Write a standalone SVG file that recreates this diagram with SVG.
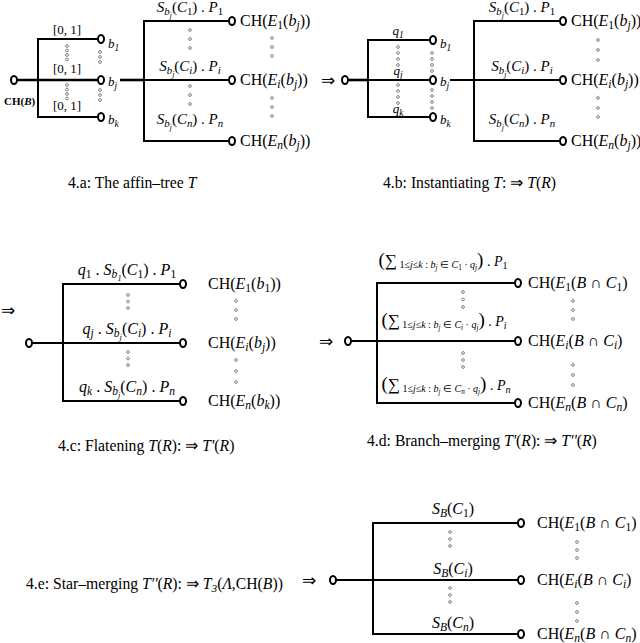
<svg xmlns="http://www.w3.org/2000/svg" width="640" height="643" viewBox="0 0 640 643">
<style>
text{font-family:"Liberation Serif","Times New Roman",serif;fill:#000}
.l{font-size:15px}
.c{font-size:16px}
.m{font-size:13px}
.cap{font-size:15.7px}
.big{font-size:16px}
.arr{font-size:17px;font-family:"DejaVu Sans",sans-serif}
.i{font-style:italic}
.s{font-size:72%;baseline-shift:-0.3em}
.ln{stroke:#000;stroke-width:2;fill:none}
.th{stroke:#000;stroke-width:2.6;fill:none}
.n{fill:#fff;stroke:#000;stroke-width:2}
.d{fill:none;stroke:#666;stroke-width:0.8}
</style>
<defs>
<ellipse id="o" cx="0" cy="0" rx="3" ry="4" class="n"/>
<circle id="dt" cx="0" cy="0" r="1.4" class="d"/>
</defs>

<!-- ===== 4.a ===== -->
<g id="fig4a">
<g id="a-edges">
<line class="th" x1="14" y1="80" x2="100" y2="80"/>
<polyline class="ln" points="100,39 38,39 38,117 100,117"/>
<line class="th" x1="120" y1="80" x2="144" y2="80"/>
<polyline class="ln" points="231,21 144,21 144,141 231,141"/>
<line class="ln" x1="144" y1="80" x2="231" y2="80"/>
</g>
<g id="a-root"><use href="#o" x="14" y="80"/><text x="4" y="105" font-size="11" font-weight="bold">CH(<tspan class="i">B</tspan>)</text></g>
<g id="a-b1"><use href="#o" x="101" y="39"/><text class="m i" x="108" y="48">b<tspan class="s">1</tspan></text></g>
<g id="a-bj"><use href="#o" x="101" y="80"/><text class="m i" x="108" y="86">b<tspan class="s">j</tspan></text></g>
<g id="a-bk"><use href="#o" x="101" y="117"/><text class="m i" x="108" y="124">b<tspan class="s">k</tspan></text></g>
<g id="a-e1"><use href="#o" x="232" y="21"/><text class="c" x="240" y="26">CH(<tspan class="i">E</tspan><tspan class="s">1</tspan>(<tspan class="i">b</tspan><tspan class="s i">j</tspan>))</text></g>
<g id="a-ei"><use href="#o" x="232" y="80"/><text class="c" x="240" y="85">CH(<tspan class="i">E</tspan><tspan class="s i">i</tspan>(<tspan class="i">b</tspan><tspan class="s i">j</tspan>))</text></g>
<g id="a-en"><use href="#o" x="232" y="141"/><text class="c" x="240" y="146">CH(<tspan class="i">E</tspan><tspan class="s i">n</tspan>(<tspan class="i">b</tspan><tspan class="s i">j</tspan>))</text></g>
<g id="a-labels">
<text class="m" x="67" y="34" text-anchor="middle">[0, 1]</text>
<text class="m" x="67" y="73" text-anchor="middle">[0, 1]</text>
<text class="m" x="67" y="110" text-anchor="middle">[0, 1]</text>
<text class="l" x="190" y="12" text-anchor="middle"><tspan class="i">S</tspan><tspan class="s i">b<tspan class="s">j</tspan></tspan>(<tspan class="i">C</tspan><tspan class="s">1</tspan>) . <tspan class="i">P</tspan><tspan class="s">1</tspan></text>
<text class="l" x="190" y="71" text-anchor="middle"><tspan class="i">S</tspan><tspan class="s i">b<tspan class="s">j</tspan></tspan>(<tspan class="i">C</tspan><tspan class="s i">i</tspan>) . <tspan class="i">P</tspan><tspan class="s i">i</tspan></text>
<text class="l" x="190" y="124" text-anchor="middle"><tspan class="i">S</tspan><tspan class="s i">b<tspan class="s">j</tspan></tspan>(<tspan class="i">C</tspan><tspan class="s i">n</tspan>) . <tspan class="i">P</tspan><tspan class="s i">n</tspan></text>
</g>
<g id="a-dots">
<use href="#dt" x="67" y="46"/><use href="#dt" x="67" y="50.5"/><use href="#dt" x="67" y="55"/><use href="#dt" x="67" y="59.5"/>
<use href="#dt" x="67" y="85"/><use href="#dt" x="67" y="89.5"/><use href="#dt" x="67" y="94"/><use href="#dt" x="67" y="98.5"/>
<use href="#dt" x="100" y="52"/><use href="#dt" x="100" y="57"/><use href="#dt" x="100" y="62"/>
<use href="#dt" x="100" y="90"/><use href="#dt" x="100" y="95"/><use href="#dt" x="100" y="100"/>
<use href="#dt" x="190" y="30"/><use href="#dt" x="190" y="39"/><use href="#dt" x="190" y="48"/>
<use href="#dt" x="190" y="86"/><use href="#dt" x="190" y="95"/><use href="#dt" x="190" y="104"/>
<use href="#dt" x="272" y="38"/><use href="#dt" x="272" y="47"/><use href="#dt" x="272" y="56"/>
<use href="#dt" x="272" y="98"/><use href="#dt" x="272" y="107"/><use href="#dt" x="272" y="116"/>
</g>
<text class="cap" x="68" y="188">4.a: The affin–tree <tspan class="i">T</tspan></text>
</g>

<!-- ===== 4.b ===== -->
<g id="fig4b">
<text class="arr" x="321" y="86">⇒</text>
<g id="b-edges">
<line class="th" x1="345" y1="80" x2="368" y2="80"/>
<line class="ln" x1="368" y1="80" x2="432" y2="80"/>
<polyline class="ln" points="432,40 368,40 368,117 432,117"/>
<line class="ln" x1="450" y1="80" x2="562" y2="80"/>
<polyline class="ln" points="562,21 474,21 474,141 562,141"/>
</g>
<g id="b-root"><use href="#o" x="345" y="80"/></g>
<g id="b-b1"><use href="#o" x="433" y="40"/><text class="m i" x="440" y="48">b<tspan class="s">1</tspan></text></g>
<g id="b-bj"><use href="#o" x="433" y="80"/><text class="m i" x="440" y="86">b<tspan class="s">j</tspan></text></g>
<g id="b-bk"><use href="#o" x="433" y="117"/><text class="m i" x="440" y="124">b<tspan class="s">k</tspan></text></g>
<g id="b-e1"><use href="#o" x="563" y="21"/><text class="c" x="571" y="26">CH(<tspan class="i">E</tspan><tspan class="s">1</tspan>(<tspan class="i">b</tspan><tspan class="s i">j</tspan>))</text></g>
<g id="b-ei"><use href="#o" x="563" y="80"/><text class="c" x="571" y="85">CH(<tspan class="i">E</tspan><tspan class="s i">i</tspan>(<tspan class="i">b</tspan><tspan class="s i">j</tspan>))</text></g>
<g id="b-en"><use href="#o" x="563" y="141"/><text class="c" x="571" y="146">CH(<tspan class="i">E</tspan><tspan class="s i">n</tspan>(<tspan class="i">b</tspan><tspan class="s i">j</tspan>))</text></g>
<g id="b-labels">
<text class="m i" x="398" y="35" text-anchor="middle">q<tspan class="s">1</tspan></text>
<text class="m i" x="398" y="75" text-anchor="middle">q<tspan class="s">j</tspan></text>
<text class="m i" x="398" y="113" text-anchor="middle">q<tspan class="s">k</tspan></text>
<text class="l" x="522" y="12" text-anchor="middle"><tspan class="i">S</tspan><tspan class="s i">b<tspan class="s">j</tspan></tspan>(<tspan class="i">C</tspan><tspan class="s">1</tspan>) . <tspan class="i">P</tspan><tspan class="s">1</tspan></text>
<text class="l" x="522" y="71" text-anchor="middle"><tspan class="i">S</tspan><tspan class="s i">b<tspan class="s">j</tspan></tspan>(<tspan class="i">C</tspan><tspan class="s i">i</tspan>) . <tspan class="i">P</tspan><tspan class="s i">i</tspan></text>
<text class="l" x="522" y="124" text-anchor="middle"><tspan class="i">S</tspan><tspan class="s i">b<tspan class="s">j</tspan></tspan>(<tspan class="i">C</tspan><tspan class="s i">n</tspan>) . <tspan class="i">P</tspan><tspan class="s i">n</tspan></text>
</g>
<g id="b-dots">
<use href="#dt" x="398" y="47"/><use href="#dt" x="398" y="53"/><use href="#dt" x="398" y="59"/><use href="#dt" x="398" y="65"/>
<use href="#dt" x="398" y="85"/><use href="#dt" x="398" y="91"/><use href="#dt" x="398" y="97"/><use href="#dt" x="398" y="103"/>
<use href="#dt" x="432" y="53"/><use href="#dt" x="432" y="59"/><use href="#dt" x="432" y="65"/><use href="#dt" x="432" y="71"/>
<use href="#dt" x="432" y="90"/><use href="#dt" x="432" y="96"/><use href="#dt" x="432" y="102"/><use href="#dt" x="432" y="108"/>
<use href="#dt" x="598" y="40"/><use href="#dt" x="598" y="50"/><use href="#dt" x="598" y="60"/>
<use href="#dt" x="598" y="98"/><use href="#dt" x="598" y="108"/><use href="#dt" x="598" y="117"/>
</g>
<text class="cap" x="383" y="188">4.b: Instantiating <tspan class="i">T</tspan>: ⇒ <tspan class="i">T</tspan>(<tspan class="i">R</tspan>)</text>
</g>

<!-- ===== 4.c ===== -->
<g id="fig4c">
<text class="arr" x="1" y="316">⇒</text>
<g id="c-edges">
<line class="ln" x1="29" y1="343" x2="182" y2="343"/>
<polyline class="ln" points="182,284 63,284 63,401 182,401"/>
</g>
<g id="c-root"><use href="#o" x="29" y="343"/></g>
<g id="c-e1"><use href="#o" x="183" y="284"/><text class="c" x="208" y="289">CH(<tspan class="i">E</tspan><tspan class="s">1</tspan>(<tspan class="i">b</tspan><tspan class="s">1</tspan>))</text></g>
<g id="c-ei"><use href="#o" x="183" y="343"/><text class="c" x="208" y="348">CH(<tspan class="i">E</tspan><tspan class="s i">i</tspan>(<tspan class="i">b</tspan><tspan class="s i">j</tspan>))</text></g>
<g id="c-en"><use href="#o" x="183" y="401"/><text class="c" x="208" y="406">CH(<tspan class="i">E</tspan><tspan class="s i">n</tspan>(<tspan class="i">b</tspan><tspan class="s i">k</tspan>))</text></g>
<g id="c-labels">
<text class="c" x="127" y="275" text-anchor="middle"><tspan class="i">q</tspan><tspan class="s">1</tspan> . <tspan class="i">S</tspan><tspan class="s i">b<tspan class="s">1</tspan></tspan>(<tspan class="i">C</tspan><tspan class="s">1</tspan>) . <tspan class="i">P</tspan><tspan class="s">1</tspan></text>
<text class="c" x="127" y="334" text-anchor="middle"><tspan class="i">q</tspan><tspan class="s i">j</tspan> . <tspan class="i">S</tspan><tspan class="s i">b<tspan class="s">j</tspan></tspan>(<tspan class="i">C</tspan><tspan class="s i">i</tspan>) . <tspan class="i">P</tspan><tspan class="s i">i</tspan></text>
<text class="c" x="127" y="392" text-anchor="middle"><tspan class="i">q</tspan><tspan class="s i">k</tspan> . <tspan class="i">S</tspan><tspan class="s i">b<tspan class="s">j</tspan></tspan>(<tspan class="i">C</tspan><tspan class="s i">n</tspan>) . <tspan class="i">P</tspan><tspan class="s i">n</tspan></text>
</g>
<g id="c-dots">
<use href="#dt" x="128" y="295"/><use href="#dt" x="128" y="301.5"/><use href="#dt" x="128" y="308"/>
<use href="#dt" x="128" y="352"/><use href="#dt" x="128" y="358.5"/><use href="#dt" x="128" y="365"/>
<use href="#dt" x="236" y="301"/><use href="#dt" x="236" y="310"/><use href="#dt" x="236" y="319"/>
<use href="#dt" x="236" y="360"/><use href="#dt" x="236" y="371"/><use href="#dt" x="236" y="382"/>
</g>
<text class="cap" x="58" y="451">4.c: Flatening <tspan class="i">T</tspan>(<tspan class="i">R</tspan>): ⇒ <tspan class="i">T'</tspan>(<tspan class="i">R</tspan>)</text>
</g>

<!-- ===== 4.d ===== -->
<g id="fig4d">
<text class="arr" x="319" y="347">⇒</text>
<g id="d-edges">
<line class="ln" x1="348" y1="341" x2="517" y2="341"/>
<polyline class="ln" points="517,283 377,283 377,403 517,403"/>
</g>
<g id="d-root"><use href="#o" x="348" y="341"/></g>
<g id="d-e1"><use href="#o" x="518" y="283"/><text class="c" x="528" y="288">CH(<tspan class="i">E</tspan><tspan class="s">1</tspan>(<tspan class="i">B</tspan> ∩ <tspan class="i">C</tspan><tspan class="s">1</tspan>)</text></g>
<g id="d-ei"><use href="#o" x="518" y="341"/><text class="c" x="528" y="346">CH(<tspan class="i">E</tspan><tspan class="s i">i</tspan>(<tspan class="i">B</tspan> ∩ <tspan class="i">C</tspan><tspan class="s i">i</tspan>)</text></g>
<g id="d-en"><use href="#o" x="518" y="403"/><text class="c" x="528" y="408">CH(<tspan class="i">E</tspan><tspan class="s i">n</tspan>(<tspan class="i">B</tspan> ∩ <tspan class="i">C</tspan><tspan class="s i">n</tspan>)</text></g>
<g id="d-labels">
<text x="443" y="266" text-anchor="middle" font-size="14"><tspan font-size="19">(</tspan><tspan font-size="17">∑</tspan><tspan font-size="10" baseline-shift="-2"> 1≤<tspan class="i">j</tspan>≤<tspan class="i">k</tspan> : <tspan class="i">b</tspan><tspan class="s i">j</tspan> ∈ <tspan class="i">C</tspan><tspan class="s">1</tspan> · <tspan class="i">q</tspan><tspan class="s i">j</tspan></tspan><tspan font-size="19">)</tspan> . <tspan class="i">P</tspan><tspan class="s">1</tspan></text>
<text x="444" y="326" text-anchor="middle" font-size="14"><tspan font-size="19">(</tspan><tspan font-size="17">∑</tspan><tspan font-size="10" baseline-shift="-2"> 1≤<tspan class="i">j</tspan>≤<tspan class="i">k</tspan> : <tspan class="i">b</tspan><tspan class="s i">j</tspan> ∈ <tspan class="i">C</tspan><tspan class="s i">i</tspan> · <tspan class="i">q</tspan><tspan class="s i">j</tspan></tspan><tspan font-size="19">)</tspan> . <tspan class="i">P</tspan><tspan class="s i">i</tspan></text>
<text x="446" y="390" text-anchor="middle" font-size="14"><tspan font-size="19">(</tspan><tspan font-size="17">∑</tspan><tspan font-size="10" baseline-shift="-2"> 1≤<tspan class="i">j</tspan>≤<tspan class="i">k</tspan> : <tspan class="i">b</tspan><tspan class="s i">j</tspan> ∈ <tspan class="i">C</tspan><tspan class="s i">n</tspan> · <tspan class="i">q</tspan><tspan class="s i">j</tspan></tspan><tspan font-size="19">)</tspan> . <tspan class="i">P</tspan><tspan class="s i">n</tspan></text>
</g>
<g id="d-dots">
<use href="#dt" x="463" y="292"/><use href="#dt" x="463" y="299.5"/><use href="#dt" x="463" y="307"/>
<use href="#dt" x="463" y="353"/><use href="#dt" x="463" y="360"/><use href="#dt" x="463" y="367"/>
<use href="#dt" x="573" y="301"/><use href="#dt" x="573" y="310"/><use href="#dt" x="573" y="319"/>
<use href="#dt" x="573" y="365"/><use href="#dt" x="573" y="375"/><use href="#dt" x="573" y="385"/>
</g>
<text class="cap" x="367" y="446">4.d: Branch–merging <tspan class="i">T'</tspan>(<tspan class="i">R</tspan>): ⇒ <tspan class="i">T''</tspan>(<tspan class="i">R</tspan>)</text>
</g>

<!-- ===== 4.e ===== -->
<g id="fig4e">
<text class="cap" x="26" y="589">4.e: Star–merging <tspan class="i">T''</tspan>(<tspan class="i">R</tspan>): ⇒ <tspan class="i">T</tspan><tspan class="s i">3</tspan>(<tspan class="i">Λ</tspan>,CH(<tspan class="i">B</tspan>))</text>
<text class="arr" x="302" y="586">⇒</text>
<g id="e-edges">
<line class="ln" x1="333" y1="580" x2="520" y2="580"/>
<polyline class="ln" points="520,523 373,523 373,634 520,634"/>
</g>
<g id="e-root"><use href="#o" x="333" y="580"/></g>
<g id="e-e1"><use href="#o" x="521" y="523"/><text class="c" x="537" y="528">CH(<tspan class="i">E</tspan><tspan class="s">1</tspan>(<tspan class="i">B</tspan> ∩ <tspan class="i">C</tspan><tspan class="s">1</tspan>)</text></g>
<g id="e-ei"><use href="#o" x="521" y="580"/><text class="c" x="537" y="585">CH(<tspan class="i">E</tspan><tspan class="s i">i</tspan>(<tspan class="i">B</tspan> ∩ <tspan class="i">C</tspan><tspan class="s i">i</tspan>)</text></g>
<g id="e-en"><use href="#o" x="521" y="634"/><text class="c" x="537" y="639">CH(<tspan class="i">E</tspan><tspan class="s i">n</tspan>(<tspan class="i">B</tspan> ∩ <tspan class="i">C</tspan><tspan class="s i">n</tspan>)</text></g>
<g id="e-labels">
<text class="big" x="453" y="514" text-anchor="middle"><tspan class="i">S</tspan><tspan class="s i">B</tspan>(<tspan class="i">C</tspan><tspan class="s">1</tspan>)</text>
<text class="big" x="453" y="574" text-anchor="middle"><tspan class="i">S</tspan><tspan class="s i">B</tspan>(<tspan class="i">C</tspan><tspan class="s i">i</tspan>)</text>
<text class="big" x="453" y="628" text-anchor="middle"><tspan class="i">S</tspan><tspan class="s i">B</tspan>(<tspan class="i">C</tspan><tspan class="s i">n</tspan>)</text>
</g>
<g id="e-dots">
<use href="#dt" x="450" y="532"/><use href="#dt" x="450" y="539"/><use href="#dt" x="450" y="546"/>
<use href="#dt" x="450" y="588"/><use href="#dt" x="450" y="595"/><use href="#dt" x="450" y="602"/>
<use href="#dt" x="577" y="542"/><use href="#dt" x="577" y="550"/><use href="#dt" x="577" y="558"/>
<use href="#dt" x="577" y="603"/><use href="#dt" x="577" y="612"/><use href="#dt" x="577" y="621"/>
</g>
</g>
</svg>
